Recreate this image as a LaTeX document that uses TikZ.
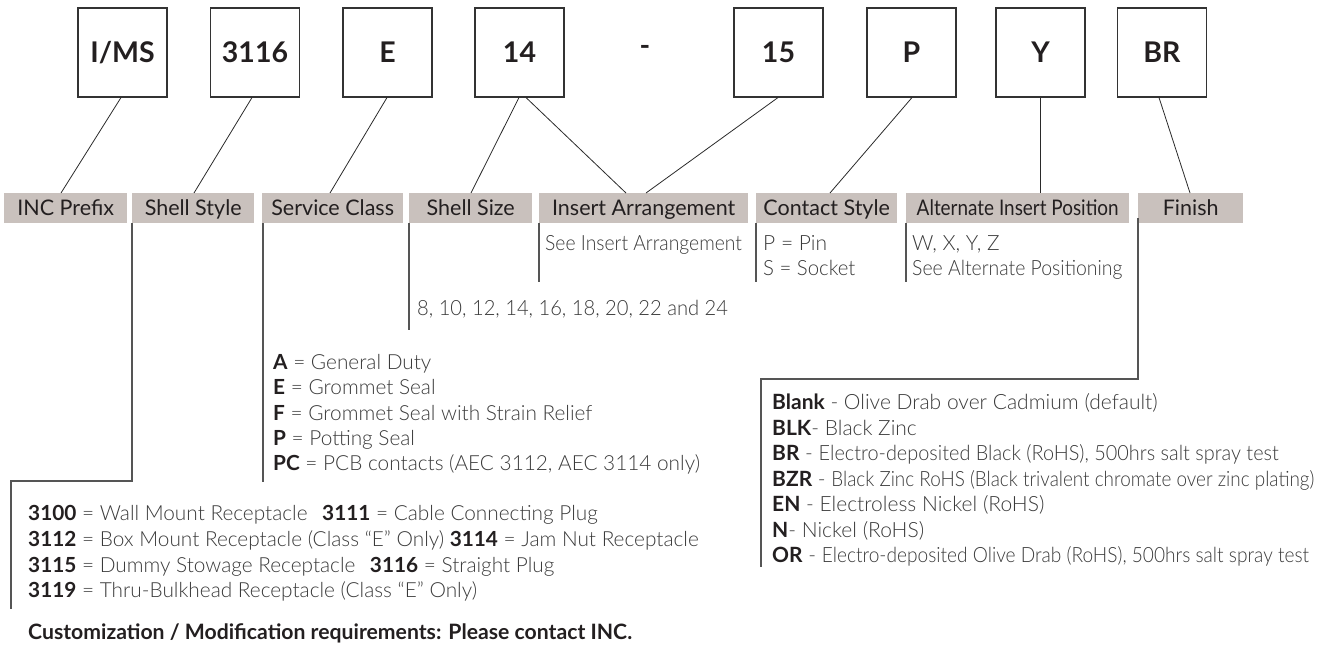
\documentclass[tikz,border=0pt]{standalone}
\usepackage{fontspec}
\setmainfont{Lato}
\IfFontExistsTF{Lato Light}{\newfontfamily\litefont{Lato Light}}{\newfontfamily\litefont{Lato}}
\newfontfamily\keyfont{Lato}
\newcommand{\kk}[1]{\textcolor{txt}{\keyfont\bfseries #1}}
\definecolor{barc}{HTML}{C9C1BD}
\definecolor{txt}{HTML}{231F20}
\definecolor{txtl}{HTML}{3A3A3A}
\definecolor{boxc}{HTML}{333333}
\definecolor{linec}{HTML}{2A2A2A}
\definecolor{dropc}{HTML}{555555}
\begin{document}
\begin{tikzpicture}[x=1pt,y=-1pt,
  box/.style={draw=boxc, line width=1.1pt, minimum width=89pt, minimum height=89pt, inner sep=0pt, text=txt, font=\fontsize{28.5}{30}\selectfont\bfseries},
  bar/.style={fill=barc, minimum height=30pt, inner sep=0pt, anchor=north west, text=txt, text height=15.4pt, text depth=0pt, font=\fontsize{21.5}{24}\selectfont},
  lead/.style={line width=0.8pt, draw=linec},
  drop/.style={line width=1.2pt, draw=dropc},
  ltxt/.style={anchor=base west, inner sep=0pt, text=txtl, font=\litefont\fontsize{21}{24}\selectfont},
  lst/.style={anchor=base west, inner sep=0pt, text=txtl, font=\litefont\fontsize{20.8}{24}\selectfont},
  flst/.style={anchor=base west, inner sep=0pt, text=txtl, font=\litefont\fontsize{21}{24}\selectfont},
]
\useasboundingbox (0,0) rectangle (1326,645);
% top boxes
\node[box] (ims) at (122.5,52.5) {I/MS};
\node[box] (b3116) at (255,52.5) {3116};
\node[box] (bE) at (387.5,52.5) {E};
\node[box] (b14) at (519.5,52.5) {14};
\node[inner sep=0pt, text=txt, font=\fontsize{28.5}{30}\selectfont\bfseries] (dash) at (645,50) {-};
\node[box] (b15) at (778.5,52.5) {15};
\node[box] (bP) at (911.5,52.5) {P};
\node[box] (bY) at (1040.5,52.5) {Y};
\node[box] (bBR) at (1162,52.5) {BR};
% label bars
\node[bar, minimum width=123pt] (l1) at (4,193) {INC Prefix};
\node[bar, minimum width=122pt] (l2) at (132,193) {Shell Style};
\node[bar, minimum width=141pt] (l3) at (262,193) {Service Class};
\node[bar, minimum width=123pt] (l4) at (409,193) {Shell Size};
\node[bar, minimum width=209pt] (l5) at (539,193) {Insert Arrangement};
\node[bar, minimum width=141pt] (l6) at (756,193) {Contact Style};
\node[bar, minimum width=223pt] (l7) at (906,193) {\scalebox{0.88}[1]{Alternate Insert Position}};
\node[bar, minimum width=105pt] (l8) at (1138,193) {Finish};
% lead points
\coordinate (t1) at (61,193);
\coordinate (t2) at (194,193);
\coordinate (t3) at (330,193);
\coordinate (t4) at (471,193);
\coordinate (t5a) at (626,193);
\coordinate (t5b) at (646,193);
\coordinate (t6) at (830,193);
\coordinate (t7) at (1040,193);
\coordinate (t8) at (1190,193);
\draw[lead] ([xshift=-1.5pt]ims.south) -- (t1);
\draw[lead] ([xshift=-3pt]b3116.south) -- (t2);
\draw[lead] ([xshift=-0.5pt]bE.south) -- (t3);
\draw[lead] ([xshift=-0.5pt]b14.south) -- (t4);
\draw[lead] ([xshift=6.5pt]b14.south) -- (t5a);
\draw[lead] ([xshift=-0.5pt]b15.south) -- (t5b);
\draw[lead] ([xshift=0.5pt]bP.south) -- (t6);
\draw[lead] ([xshift=-0.5pt]bY.south) -- (t7);
\draw[lead] ([xshift=-3pt]bBR.south) -- (t8);
% drop lines
\coordinate (d2a) at (132,481);
\coordinate (d2b) at (11,481);
\coordinate (d2c) at (11,609);
\draw[drop] (l2.south west) -- (d2a) -- (d2b) -- (d2c);
\coordinate (d3) at (263,482);
\draw[drop] ([xshift=1pt]l3.south west) -- (d3);
\coordinate (d4) at (409,330);
\draw[drop] (l4.south west) -- (d4);
\coordinate (d5) at (539,282);
\draw[drop] (l5.south west) -- (d5);
\coordinate (d6) at (756,282);
\draw[drop] (l6.south west) -- (d6);
\coordinate (d7) at (906,282);
\draw[drop] (l7.south west) -- (d7);
\coordinate (d8s) at (1138,218);
\coordinate (d8a) at (1138,379);
\coordinate (d8b) at (761,379);
\coordinate (d8c) at (761,567);
\draw[drop] (d8s) -- (d8a) -- (d8b) -- (d8c);
% upper texts
\node[ltxt] (ia) at (545,250.5) {\scalebox{0.92}[1]{See Insert Arrangement}};
\node[ltxt] (cs1) at (763,250.5) {P = Pin};
\node[ltxt] (cs2) at (763,275.5) {\scalebox{0.97}[1]{S = Socket}};
\node[ltxt] (ap1) at (912,250.5) {W, X, Y, Z};
\node[ltxt] (ap2) at (912,275.5) {\scalebox{0.925}[1]{See Alternate Positioning}};
\node[ltxt] (ss) at (417,315.5) {\scalebox{0.96}[1]{8, 10, 12, 14, 16, 18, 20, 22 and 24}};
% service class list
\node[lst] (sc1) at (273,369) {\kk{A} = General Duty};
\node[lst] (sc2) at (273,394) {\kk{E} = Grommet Seal};
\node[lst] (sc3) at (273,420) {\kk{F} = Grommet Seal with Strain Relief};
\node[lst] (sc4) at (273,445) {\kk{P} = Potting Seal};
\node[lst] (sc5) at (273,470) {\kk{PC} = PCB contacts (AEC 3112, AEC 3114 only)};
% shell style list
\node[lst] (st1) at (28,520) {\kk{3100} = Wall Mount Receptacle\hspace{9pt} \kk{3111} = Cable Connecting Plug};
\node[lst] (st2) at (28,546) {\kk{3112} = Box Mount Receptacle (Class “E” Only) \kk{3114} = Jam Nut Receptacle};
\node[lst] (st3) at (28,572) {\kk{3115} = Dummy Stowage Receptacle\hspace{9pt} \kk{3116} = Straight Plug};
\node[lst] (st4) at (28,597) {\kk{3119} = Thru-Bulkhead Receptacle (Class “E” Only)};
\node[anchor=base west, inner sep=0pt, text=txt, font=\fontsize{21.2}{24}\selectfont\bfseries] (cust) at (28,639) {Customization / Modification requirements: Please contact INC.};
% finish list
\node[flst] (f1) at (772,409) {\kk{Blank} - Olive Drab over Cadmium (default)};
\node[flst] (f2) at (772,435) {\kk{BLK}- Black Zinc};
\node[flst] (f3) at (772,460) {\kk{BR} - \scalebox{0.947}[1]{Electro-deposited Black (RoHS), 500hrs salt spray test}};
\node[flst] (f4) at (772,486) {\kk{BZR} - \scalebox{0.90}[1]{Black Zinc RoHS (Black trivalent chromate over zinc plating)}};
\node[flst] (f5) at (772,511) {\kk{EN} - Electroless Nickel (RoHS)};
\node[flst] (f6) at (772,537) {\kk{N}- Nickel (RoHS)};
\node[flst] (f7) at (772,562) {\kk{OR} - \scalebox{0.91}[1]{Electro-deposited Olive Drab (RoHS), 500hrs salt spray test}};
\end{tikzpicture}
\end{document}
